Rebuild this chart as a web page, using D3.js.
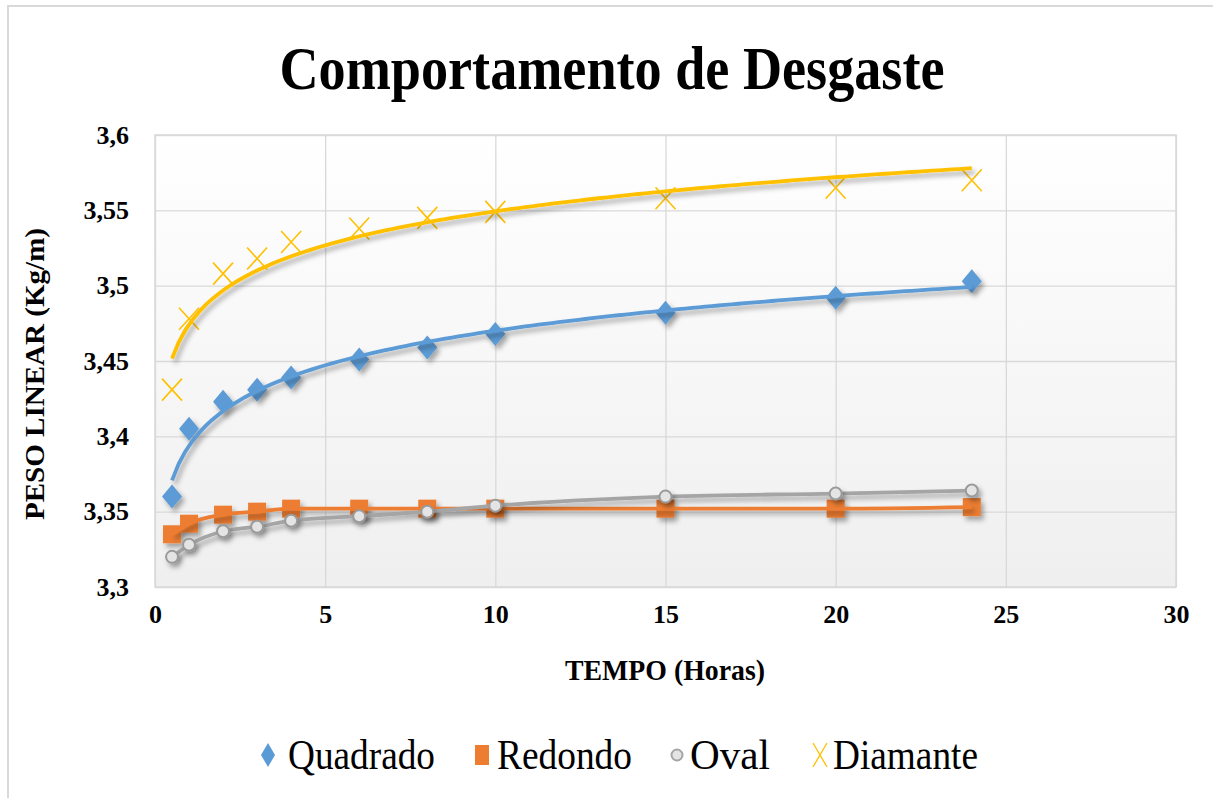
<!DOCTYPE html>
<html>
<head>
<meta charset="utf-8">
<script src="https://cdn.jsdelivr.net/npm/d3@7"></script>
<style>
  html, body { margin: 0; padding: 0; background: #ffffff; }
  svg { display: block; }
  text { font-family: "Liberation Serif", "Times New Roman", serif; fill: #000; }
</style>
</head>
<body>
<div id="chart"></div>
<script>
// ---- data ----
const chartTitle = "Comportamento de Desgaste";
const xTitle = "TEMPO (Horas)";
const yTitle = "PESO LINEAR (Kg/m)";
const hours = [0.5, 1, 2, 3, 4, 6, 8, 10, 15, 20, 24];
const quadrado = [3.360, 3.405, 3.423, 3.431, 3.439, 3.451, 3.459, 3.468, 3.482, 3.492, 3.503];
const redondo  = [3.335, 3.342, 3.348, 3.350, 3.352, 3.352, 3.352, 3.352, 3.352, 3.352, 3.353];
const oval     = [3.320, 3.328, 3.337, 3.340, 3.344, 3.347, 3.350, 3.354, 3.360, 3.362, 3.364];
const diamante = [3.431, 3.478, 3.508, 3.518, 3.529, 3.538, 3.545, 3.549, 3.558, 3.565, 3.570];
const seriesNames = ["Quadrado", "Redondo", "Oval", "Diamante"];
const xTicks = [0, 5, 10, 15, 20, 25, 30];
const yTicks = [3.3, 3.35, 3.4, 3.45, 3.5, 3.55, 3.6];
const colors = {Quadrado: "#5B9BD5", Redondo: "#ED7D31", Oval: "#A5A5A5", Diamante: "#FFC000"};

// ---- layout ----
const W = 1213, H = 798;
const plot = {left: 155, top: 135, right: 1176, bottom: 587};

const svg = d3.select("#chart").append("svg").attr("width", W).attr("height", H);
const defs = svg.append("defs");
const grad = defs.append("linearGradient").attr("id", "bg").attr("x1", 0).attr("y1", 0).attr("x2", 0).attr("y2", 1);
grad.append("stop").attr("offset", "0%").attr("stop-color", "#ffffff");
grad.append("stop").attr("offset", "100%").attr("stop-color", "#efefef");
const f = defs.append("filter").attr("id", "shadow").attr("x", "-10%").attr("y", "-30%").attr("width", "130%").attr("height", "180%");
f.append("feDropShadow").attr("dx", 3).attr("dy", 4).attr("stdDeviation", 2.5)
  .attr("flood-color", "#000").attr("flood-opacity", 0.33);

// outer chart frame (only top and left visible)
svg.append("rect").attr("x", 8).attr("y", 6).attr("width", 1220).attr("height", 820)
  .attr("fill", "none").attr("stroke", "#d9d9d9").attr("stroke-width", 2);

const x = d3.scaleLinear().domain([0, 30]).range([plot.left, plot.right]);
const y = d3.scaleLinear().domain([3.3, 3.6]).range([plot.bottom, plot.top]);

// plot background
svg.append("rect").attr("x", plot.left).attr("y", plot.top)
  .attr("width", plot.right - plot.left).attr("height", plot.bottom - plot.top)
  .attr("fill", "url(#bg)");

// gridlines
svg.append("g").attr("transform", `translate(0,${plot.bottom})`)
  .call(d3.axisBottom(x).tickValues(xTicks).tickSize(-(plot.bottom - plot.top)).tickFormat(""))
  .call(g => g.select(".domain").remove())
  .call(g => g.selectAll("line").attr("stroke", "#d9d9d9").attr("stroke-width", 1.3));
svg.append("g").attr("transform", `translate(${plot.left},0)`)
  .call(d3.axisLeft(y).tickValues(yTicks).tickSize(-(plot.right - plot.left)).tickFormat(""))
  .call(g => g.select(".domain").remove())
  .call(g => g.selectAll("line").attr("stroke", "#d9d9d9").attr("stroke-width", 1.3));
svg.append("rect").attr("x", plot.left).attr("y", plot.top)
  .attr("width", plot.right - plot.left).attr("height", plot.bottom - plot.top)
  .attr("fill", "none").attr("stroke", "#d9d9d9").attr("stroke-width", 1.5);

// tick labels
const fmt = v => d3.format("")(+v.toFixed(2)).replace(".", ",");
const yAx = svg.append("g").attr("transform", `translate(${plot.left},0)`)
  .call(d3.axisLeft(y).tickValues(yTicks).tickSize(0).tickPadding(26).tickFormat(fmt));
yAx.select(".domain").remove();
yAx.selectAll("text").attr("font-family", "Liberation Serif").attr("font-size", 26).attr("font-weight", "bold").attr("fill", "#000");
const xAx = svg.append("g").attr("transform", `translate(0,${plot.bottom})`)
  .call(d3.axisBottom(x).tickValues(xTicks).tickSize(0).tickPadding(18).tickFormat(d => d));
xAx.select(".domain").remove();
xAx.selectAll("text").attr("font-family", "Liberation Serif").attr("font-size", 26).attr("font-weight", "bold").attr("fill", "#000");

// titles
svg.append("text").attr("x", 612).attr("y", 89).attr("text-anchor", "middle")
  .attr("font-size", 62).attr("font-weight", "bold")
  .attr("textLength", 665).attr("lengthAdjust", "spacingAndGlyphs").text(chartTitle);
svg.append("text").attr("x", 665).attr("y", 680).attr("text-anchor", "middle")
  .attr("font-size", 29).attr("font-weight", "bold")
  .attr("textLength", 200).attr("lengthAdjust", "spacingAndGlyphs").text(xTitle);
svg.append("text").attr("transform", "translate(44,374) rotate(-90)").attr("text-anchor", "middle")
  .attr("font-size", 28).attr("font-weight", "bold")
  .attr("textLength", 292).attr("lengthAdjust", "spacingAndGlyphs").text(yTitle);

// ---- marks ----
const pts = vals => hours.map((h, i) => [h, vals[i]]);
function logFit(vals) {
  const lx = hours.map(Math.log), n = hours.length;
  const mx = d3.mean(lx), my = d3.mean(vals);
  let sxy = 0, sxx = 0;
  lx.forEach((v, i) => { sxy += (v - mx) * (vals[i] - my); sxx += (v - mx) * (v - mx); });
  const b = sxy / sxx, a = my - b * mx;
  const xs = d3.range(0, 121).map(i => hours[0] + (hours[hours.length - 1] - hours[0]) * i / 120);
  return xs.map(h => [h, a + b * Math.log(h)]);
}
const line = d3.line().x(d => x(d[0])).y(d => y(d[1]));
const smooth = d3.line().x(d => x(d[0])).y(d => y(d[1])).curve(d3.curveMonotoneX);

const marks = svg.append("g");
// Redondo squares
marks.append("g").attr("filter", "url(#shadow)").selectAll("rect").data(pts(redondo)).join("rect")
  .attr("x", d => x(d[0]) - 9).attr("y", d => y(d[1]) - 9).attr("width", 18).attr("height", 18)
  .attr("fill", colors.Redondo);
// Quadrado diamonds
marks.append("g").attr("filter", "url(#shadow)").selectAll("path").data(pts(quadrado)).join("path")
  .attr("d", d => `M${x(d[0])},${y(d[1]) - 12}L${x(d[0]) + 10},${y(d[1])}L${x(d[0])},${y(d[1]) + 12}L${x(d[0]) - 10},${y(d[1])}Z`)
  .attr("fill", colors.Quadrado);
// Diamante crosses
marks.append("g").selectAll("path").data(pts(diamante)).join("path")
  .attr("d", d => `M${x(d[0]) - 10},${y(d[1]) - 11}L${x(d[0]) + 10},${y(d[1]) + 11}M${x(d[0]) + 10},${y(d[1]) - 11}L${x(d[0]) - 10},${y(d[1]) + 11}`)
  .attr("stroke", colors.Diamante).attr("stroke-width", 1.6).attr("fill", "none");

// lines
marks.append("path").datum(pts(redondo)).attr("d", smooth).attr("fill", "none")
  .attr("stroke", colors.Redondo).attr("stroke-width", 3.8).attr("filter", "url(#shadow)");
marks.append("path").datum(logFit(quadrado)).attr("d", line).attr("fill", "none")
  .attr("stroke", colors.Quadrado).attr("stroke-width", 3.8).attr("filter", "url(#shadow)");
marks.append("path").datum(logFit(diamante)).attr("d", line).attr("fill", "none")
  .attr("stroke", colors.Diamante).attr("stroke-width", 3.8).attr("filter", "url(#shadow)");
marks.append("path").datum(pts(oval)).attr("d", smooth).attr("fill", "none")
  .attr("stroke", colors.Oval).attr("stroke-width", 3.8).attr("filter", "url(#shadow)");
// Oval circles
marks.append("g").attr("filter", "url(#shadow)").selectAll("circle").data(pts(oval)).join("circle")
  .attr("cx", d => x(d[0])).attr("cy", d => y(d[1])).attr("r", 6)
  .attr("fill", "#e4e4e4").attr("stroke", "#9a9a9a").attr("stroke-width", 2);

// ---- legend ----
const legendItems = [
  {name: seriesNames[0], mx: 268, tx: 288, tw: 147},
  {name: seriesNames[1], mx: 482, tx: 497, tw: 135},
  {name: seriesNames[2], mx: 677, tx: 690, tw: 80},
  {name: seriesNames[3], mx: 820, tx: 833, tw: 145}
];
const ly = 755;
const lg = svg.append("g");
legendItems.forEach(it => {
  const c = colors[it.name];
  if (it.name === "Quadrado") {
    lg.append("path").attr("d", `M${it.mx},${ly - 12}L${it.mx + 7},${ly}L${it.mx},${ly + 12}L${it.mx - 7},${ly}Z`).attr("fill", c);
  } else if (it.name === "Redondo") {
    lg.append("rect").attr("x", it.mx - 7).attr("y", ly - 10).attr("width", 14).attr("height", 20).attr("fill", c);
  } else if (it.name === "Oval") {
    lg.append("circle").attr("cx", it.mx).attr("cy", ly).attr("r", 5.5).attr("fill", "#e4e4e4").attr("stroke", "#a5a5a5").attr("stroke-width", 2);
  } else {
    lg.append("path").attr("d", `M${it.mx - 7},${ly - 12}L${it.mx + 7},${ly + 12}M${it.mx + 7},${ly - 12}L${it.mx - 7},${ly + 12}`)
      .attr("stroke", c).attr("stroke-width", 1.3).attr("fill", "none");
  }
  lg.append("text").attr("x", it.tx).attr("y", ly + 14).attr("font-size", 42)
    .attr("textLength", it.tw).attr("lengthAdjust", "spacingAndGlyphs").text(it.name);
});
</script>
</body>
</html>
